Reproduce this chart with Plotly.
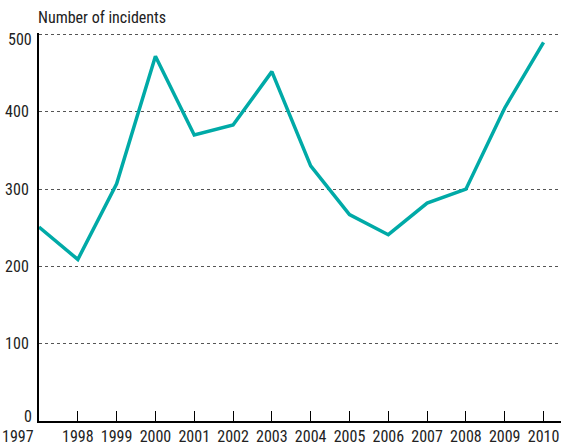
import plotly.graph_objects as go

years = [1997, 1998, 1999, 2000, 2001, 2002, 2003, 2004, 2005, 2006, 2007, 2008, 2009, 2010]
incidents = [251, 209, 307, 472, 370, 383, 452, 330, 267, 241, 282, 300, 405, 490]
y_ticks = [0, 100, 200, 300, 400, 500]
y_title = "Number of incidents"

FONT = "Liberation Sans Narrow, Arial Narrow, Roboto Condensed, sans-serif"
FS = 16
TXT = "#222222"

# end labels are nudged inward in the reference, so draw them as annotations
x_tick_text = [""] + [str(y) for y in years[1:]]
y_tick_text = ["" if v in (y_ticks[0], y_ticks[-1]) else str(v) for v in y_ticks]

fig = go.Figure()
fig.add_trace(go.Scatter(
    x=years, y=incidents, mode="lines",
    line=dict(color="#00AAA7", width=3.5),
    hoverinfo="skip",
))

font = dict(family=FONT, size=FS, color=TXT)
annotations = [
    dict(text=y_title, xref="paper", yref="paper", x=0, y=1,
         xshift=-3, yshift=4, xanchor="left", yanchor="bottom",
         showarrow=False, font=font),
    dict(text=str(years[0]), xref="paper", yref="paper", x=0, y=0,
         xshift=-39, yshift=-4, xanchor="left", yanchor="top",
         showarrow=False, font=font),
    dict(text=str(y_ticks[0]), xref="paper", yref="y", x=0, y=y_ticks[0],
         xshift=-5, yshift=5, xanchor="right", yanchor="middle",
         showarrow=False, font=font),
    dict(text=str(y_ticks[-1]), xref="paper", yref="y", x=0, y=y_ticks[-1],
         xshift=-5, yshift=-5, xanchor="right", yanchor="middle",
         showarrow=False, font=font),
]

fig.update_layout(
    width=563, height=445,
    margin=dict(l=39, r=2, t=33, b=24, autoexpand=False),
    paper_bgcolor="white", plot_bgcolor="white",
    showlegend=False,
    font=font,
    xaxis=dict(
        range=[1997, 2010.45],
        tickmode="array", tickvals=years, ticktext=x_tick_text,
        ticks="inside", ticklen=10, tickwidth=1, tickcolor="black",
        showline=True, linecolor="black", linewidth=2,
        showgrid=False, zeroline=False, automargin=False,
        tickfont=font,
    ),
    yaxis=dict(
        range=[0, 502],
        tickmode="array", tickvals=y_ticks, ticktext=y_tick_text,
        showline=True, linecolor="black", linewidth=2,
        showgrid=True, gridcolor="#555555", griddash="dot", gridwidth=1,
        zeroline=False, ticks="", ticklabelstandoff=5, automargin=False,
        tickfont=font,
    ),
    annotations=annotations,
)

fig.write_html("out.html", config={"displayModeBar": False},
               post_script="document.body.style.margin='0px';")
